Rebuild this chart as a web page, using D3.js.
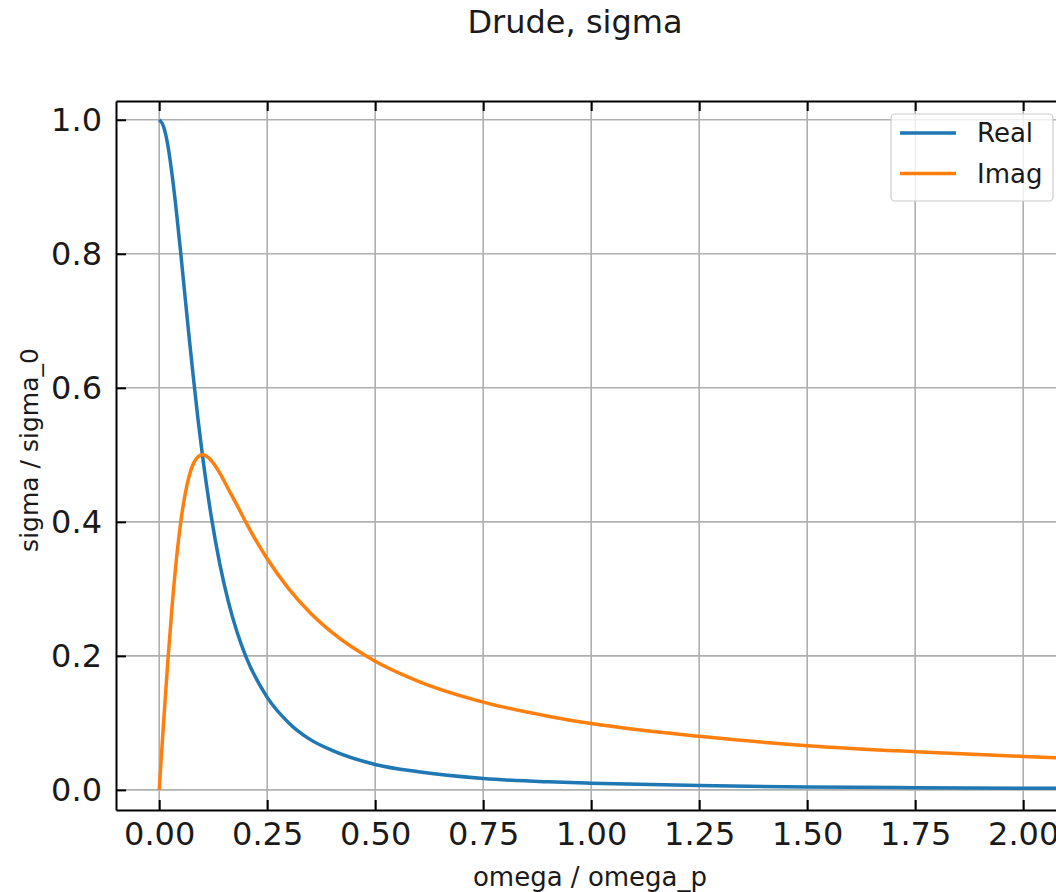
<!DOCTYPE html>
<html>
<head>
<meta charset="utf-8">
<script src="https://cdn.jsdelivr.net/npm/d3@7"></script>
<style>
  body { margin: 0; background: white; }
  svg { display: block; overflow: hidden; }
  text { font-family: "DejaVu Sans", sans-serif; fill: #1a1a1a; }
</style>
</head>
<body>
<div id="plot"></div>
<script>
// chart size
const width = 1056;
const height = 892;
const margin = {top: 101, right: 0, bottom: 82, left: 116};

// values
const omega = [0, 0.01, 0.02, 0.03, 0.04, 0.05, 0.06, 0.07, 0.08, 0.09, 0.10, 0.12, 0.14, 0.16, 0.18, 0.20,
               0.25, 0.30, 0.35, 0.40, 0.50, 0.60, 0.75, 0.90, 1.00, 1.25, 1.50, 1.75, 2.00, 2.10];
const realPart = [1.000, 0.990, 0.962, 0.917, 0.862, 0.800, 0.735, 0.671, 0.610, 0.552, 0.500, 0.410, 0.338, 0.281, 0.236, 0.200,
                  0.138, 0.100, 0.075, 0.059, 0.038, 0.027, 0.017, 0.012, 0.0099, 0.0064, 0.0044, 0.0033, 0.0025, 0.0023];
const imagPart = [0, 0.099, 0.192, 0.275, 0.345, 0.400, 0.441, 0.470, 0.488, 0.497, 0.500, 0.492, 0.473, 0.449, 0.425, 0.400,
                  0.345, 0.300, 0.264, 0.235, 0.192, 0.162, 0.131, 0.110, 0.099, 0.080, 0.066, 0.057, 0.050, 0.0475];
const xTicks = [0, 0.25, 0.5, 0.75, 1.0, 1.25, 1.5, 1.75, 2.0];
const yTicks = [0, 0.2, 0.4, 0.6, 0.8, 1.0];
const seriesNames = ["Real", "Imag"];
const colors = ["#1f77b4", "#ff7f0e"];

const svg = d3.select("div#plot")
  .append("svg")
    .attr("width", width)
    .attr("height", height);

const x = d3.scaleLinear().domain([-0.1, 2.1]).range([margin.left, margin.left + 2.2 * 432]);
const y = d3.scaleLinear().domain([-0.03, 1.028]).range([height - margin.bottom, margin.top]);

const x0 = x.range()[0], x1 = x.range()[1];
const y0 = y.range()[0], y1 = y.range()[1];

// grid
svg.append("g")
  .selectAll("line")
  .data(xTicks)
  .join("line")
    .attr("x1", d => x(d)).attr("x2", d => x(d))
    .attr("y1", y0).attr("y2", y1)
    .attr("stroke", "#b0b0b0").attr("stroke-width", 1.6);
svg.append("g")
  .selectAll("line")
  .data(yTicks)
  .join("line")
    .attr("x1", x0).attr("x2", x1)
    .attr("y1", d => y(d)).attr("y2", d => y(d))
    .attr("stroke", "#b0b0b0").attr("stroke-width", 1.6);

// curves
const line = d3.line()
  .x(d => x(d[0]))
  .y(d => y(d[1]))
  .curve(d3.curveMonotoneX);

[realPart, imagPart].forEach((vals, i) => {
  svg.append("path")
    .datum(omega.map((w, j) => [w, vals[j]]))
    .attr("d", line)
    .attr("fill", "none")
    .attr("stroke", colors[i])
    .attr("stroke-width", 3.5);
});

// axes with inward ticks
const xAxis = d3.axisBottom(x).tickValues(xTicks).tickFormat(d3.format(".2f")).tickSizeInner(-10).tickSizeOuter(0).tickPadding(12);
const xAxisTop = d3.axisTop(x).tickValues(xTicks).tickFormat("").tickSizeInner(-10).tickSizeOuter(0);
const yAxis = d3.axisLeft(y).tickValues(yTicks).tickFormat(d3.format(".1f")).tickSizeInner(-10).tickSizeOuter(0).tickPadding(14);

const gx = svg.append("g").attr("transform", `translate(0,${y0})`).call(xAxis);
const gxt = svg.append("g").attr("transform", `translate(0,${y1})`).call(xAxisTop);
const gy = svg.append("g").attr("transform", `translate(${x0},0)`).call(yAxis);

[gx, gxt, gy].forEach(g => {
  g.select(".domain").attr("stroke", "#000").attr("stroke-width", 2);
  g.selectAll(".tick line").attr("stroke", "#000").attr("stroke-width", 2);
  g.selectAll(".tick text").style("font-family", "DejaVu Sans").style("font-size", "32px").attr("fill", "#1a1a1a");
});
gx.selectAll(".tick text").attr("dy", "0.71em");

// legend
const legend = svg.append("g");
legend.append("rect")
  .attr("x", 891).attr("y", 114).attr("width", 162).attr("height", 87)
  .attr("rx", 4)
  .attr("fill", "white").attr("fill-opacity", 0.8)
  .attr("stroke", "#cccccc").attr("stroke-width", 1.2);
seriesNames.forEach((name, i) => {
  const ly = 133 + i * 40.5;
  legend.append("line")
    .attr("x1", 900).attr("x2", 956)
    .attr("y1", ly).attr("y2", ly)
    .attr("stroke", colors[i]).attr("stroke-width", 3.5);
  legend.append("text")
    .attr("x", 977).attr("y", ly)
    .attr("dy", "0.35em")
    .style("font-size", "26px")
    .text(name);
});

// labels
svg.append("text")
  .attr("x", 575).attr("y", 22)
  .attr("text-anchor", "middle").attr("dy", "0.35em")
  .style("font-size", "32px")
  .text("Drude, sigma");

svg.append("text")
  .attr("x", 590).attr("y", 877)
  .attr("text-anchor", "middle").attr("dy", "0.35em")
  .style("font-size", "26px")
  .text("omega / omega_p");

svg.append("text")
  .attr("transform", `translate(29,450) rotate(-90)`)
  .attr("text-anchor", "middle").attr("dy", "0.35em")
  .style("font-size", "25px")
  .text("sigma / sigma_0");
</script>
</body>
</html>
